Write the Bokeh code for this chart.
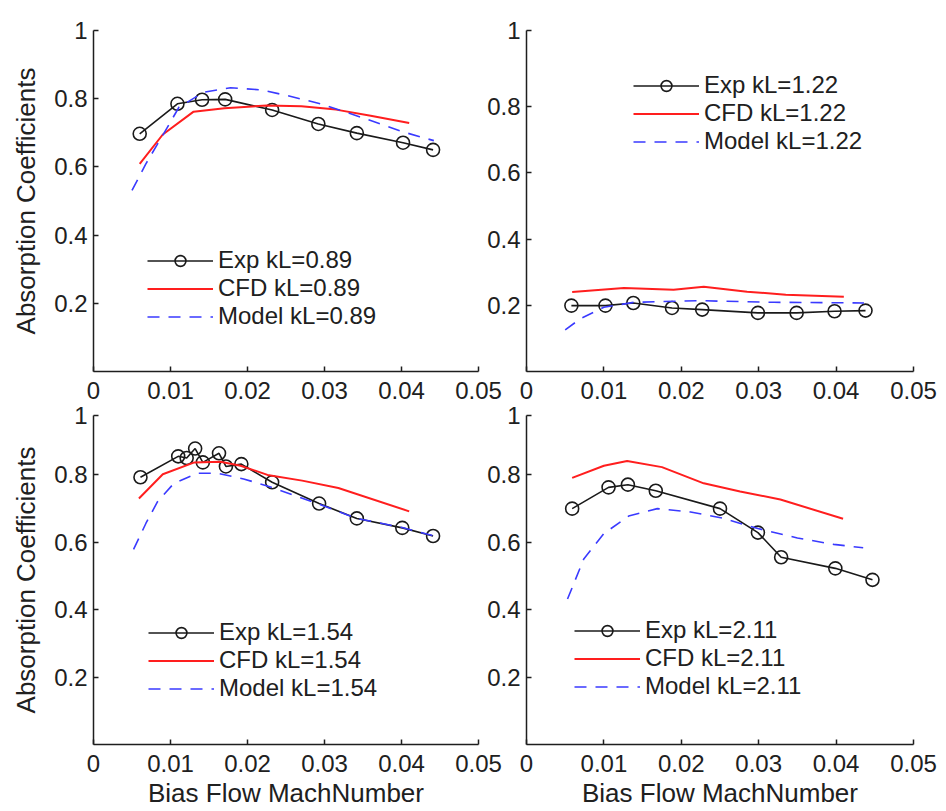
from bokeh.plotting import figure
from bokeh.layouts import row, column
from bokeh.models import FixedTicker, Range1d
from bokeh.embed import file_html
from bokeh.resources import INLINE

# ---------------- data ----------------
x_ticks = [0, 0.01, 0.02, 0.03, 0.04, 0.05]
x_tick_labels = ["0", "0.01", "0.02", "0.03", "0.04", "0.05"]
y_ticks = [0.2, 0.4, 0.6, 0.8]
y_tick_labels = ["0.2", "0.4", "0.6", "0.8"]

kl_labels = ["0.89", "1.22", "1.54", "2.11"]

exp089_x = [0.0060, 0.0109, 0.0141, 0.0171, 0.0232, 0.0292, 0.0342, 0.0402, 0.0441]
exp089_y = [0.697, 0.785, 0.797, 0.798, 0.767, 0.726, 0.699, 0.671, 0.650]
cfd089_x = [0.0060, 0.0090, 0.0130, 0.0170, 0.0225, 0.0270, 0.0315, 0.0360, 0.0410]
cfd089_y = [0.609, 0.695, 0.762, 0.772, 0.780, 0.778, 0.768, 0.750, 0.729]
mod089_x = [0.0050, 0.0068, 0.0091, 0.0111, 0.0143, 0.0178, 0.0217, 0.0252, 0.0295, 0.0347, 0.0403, 0.0442]
mod089_y = [0.531, 0.609, 0.697, 0.775, 0.819, 0.832, 0.826, 0.809, 0.785, 0.746, 0.702, 0.677]

exp122_x = [0.0058, 0.0102, 0.0138, 0.0188, 0.0227, 0.0299, 0.0349, 0.0398, 0.0438]
exp122_y = [0.199, 0.199, 0.207, 0.192, 0.187, 0.177, 0.177, 0.182, 0.184]
cfd122_x = [0.0059, 0.0126, 0.0190, 0.0229, 0.0285, 0.0335, 0.0410]
cfd122_y = [0.240, 0.252, 0.247, 0.256, 0.241, 0.232, 0.226]
mod122_x = [0.0050, 0.0070, 0.0100, 0.0139, 0.0221, 0.0320, 0.0436]
mod122_y = [0.126, 0.160, 0.194, 0.209, 0.214, 0.209, 0.207]

exp154_x = [0.0061, 0.0110, 0.0121, 0.0132, 0.0142, 0.0163, 0.0172, 0.0192, 0.0232, 0.0293, 0.0342, 0.0401, 0.0441]
exp154_y = [0.792, 0.854, 0.849, 0.877, 0.836, 0.863, 0.824, 0.831, 0.777, 0.714, 0.670, 0.642, 0.618]
cfd154_x = [0.0059, 0.0090, 0.0131, 0.0165, 0.0191, 0.0226, 0.0271, 0.0318, 0.0410]
cfd154_y = [0.729, 0.801, 0.836, 0.838, 0.826, 0.799, 0.782, 0.760, 0.691]
mod154_x = [0.0052, 0.0068, 0.0083, 0.0104, 0.0135, 0.0161, 0.0195, 0.0230, 0.0293, 0.0342, 0.0401, 0.0442]
mod154_y = [0.578, 0.655, 0.719, 0.773, 0.804, 0.804, 0.787, 0.763, 0.712, 0.670, 0.643, 0.618]

exp211_x = [0.0059, 0.0106, 0.0131, 0.0167, 0.0250, 0.0299, 0.0329, 0.0399, 0.0447]
exp211_y = [0.699, 0.762, 0.770, 0.752, 0.699, 0.628, 0.555, 0.522, 0.488]
cfd211_x = [0.0059, 0.0100, 0.0130, 0.0175, 0.0229, 0.0276, 0.0328, 0.0409]
cfd211_y = [0.790, 0.826, 0.840, 0.822, 0.774, 0.750, 0.726, 0.669]
mod211_x = [0.0053, 0.0074, 0.0100, 0.0132, 0.0169, 0.0212, 0.0253, 0.0299, 0.0350, 0.0397, 0.0435]
mod211_y = [0.431, 0.550, 0.625, 0.677, 0.699, 0.689, 0.671, 0.640, 0.612, 0.593, 0.583]

# ---------------- style ----------------
FONT = "Liberation Sans"
TXT = "#202020"
AX = "#1e1e1e"
EXP_C = "#1a1a1a"
CFD_C = "#ff1e1e"
MOD_C = "#3a3aff"


def panel(series, kl, width, height, bl, br, bt, bb, ytop, ylab, xlab, leg_loc, margin=None):
    kw = {}
    if margin is not None:
        kw["margin"] = margin
    p = figure(width=width, height=height, output_backend="svg", toolbar_location=None,
               x_range=Range1d(0, 0.05), y_range=Range1d(0, ytop),
               min_border_left=bl, min_border_right=br, min_border_top=bt, min_border_bottom=bb,
               **kw)
    p.grid.visible = False
    p.outline_line_color = None
    p.background_fill_alpha = 0
    p.border_fill_alpha = 0

    ex, ey, cx, cy, mx, my = series
    p.line(ex, ey, line_color=EXP_C, line_width=1.6, legend_label="Exp kL=" + kl)
    p.scatter(ex, ey, marker="circle", size=13, fill_color=None, line_color=EXP_C,
              line_width=1.6, legend_label="Exp kL=" + kl)
    p.line(cx, cy, line_color=CFD_C, line_width=2, legend_label="CFD kL=" + kl)
    p.line(mx, my, line_color=MOD_C, line_width=1.6, line_dash="12 9",
           legend_label="Model kL=" + kl)

    p.xaxis.ticker = FixedTicker(ticks=x_ticks)
    p.xaxis.major_label_overrides = {t: s for t, s in zip(x_ticks, x_tick_labels)}
    p.yaxis.ticker = FixedTicker(ticks=y_ticks + [ytop])
    ov = {t: s for t, s in zip(y_ticks, y_tick_labels)}
    ov[ytop] = "1"
    p.yaxis.major_label_overrides = ov
    for ax in (p.xaxis, p.yaxis):
        ax.major_tick_in = 5
        ax.major_tick_out = 0
        ax.minor_tick_line_color = None
        ax.axis_line_color = AX
        ax.axis_line_width = 1.5
        ax.major_tick_line_color = AX
        ax.major_tick_line_width = 1.5
        ax.major_label_text_font = FONT
        ax.major_label_text_font_size = "24px"
        ax.major_label_text_color = TXT
        ax.axis_label_text_font = FONT
        ax.axis_label_text_font_size = "26px"
        ax.axis_label_text_font_style = "normal"
        ax.axis_label_text_color = TXT
    p.xaxis.major_label_standoff = 10
    p.yaxis.major_label_standoff = 6
    if ylab:
        p.yaxis.axis_label = "Absorption Coefficients"
        p.yaxis.axis_label_standoff = 10
    if xlab:
        p.xaxis.axis_label = "Bias Flow MachNumber"
        p.xaxis.axis_label_standoff = 3

    lg = p.legend[0]
    lg.location = leg_loc
    lg.border_line_alpha = 0
    lg.background_fill_alpha = 0
    lg.padding = 0
    lg.margin = 0
    lg.spacing = 0
    lg.glyph_width = 66
    lg.glyph_height = 27
    lg.label_height = 27
    lg.label_standoff = 5
    lg.label_text_font = FONT
    lg.label_text_font_size = "24px"
    lg.label_text_color = TXT
    return p


tl = panel((exp089_x, exp089_y, cfd089_x, cfd089_y, mod089_x, mod089_y), kl_labels[0],
           503, 412, 93, 25, 30, 41, 1.0, True, False, (54, 41))
tr = panel((exp122_x, exp122_y, cfd122_x, cfd122_y, mod122_x, mod122_y), kl_labels[1],
           460, 412, 48, 25, 20, 41, 1.03, False, False, (107, 216), margin=(0, 0, 0, -25))
bl = panel((exp154_x, exp154_y, cfd154_x, cfd154_y, mod154_x, mod154_y), kl_labels[2],
           503, 410, 93, 25, 15, 64, 0.975, True, True, (55, 42), margin=(-12, 0, 0, 0))
br = panel((exp211_x, exp211_y, cfd211_x, cfd211_y, mod211_x, mod211_y), kl_labels[3],
           460, 410, 48, 25, 15, 64, 0.975, False, True, (48, 44), margin=(-12, 0, 0, -25))

layout = column(row(tl, tr), row(bl, br))

open("out.html", "w").write(file_html(layout, INLINE))
